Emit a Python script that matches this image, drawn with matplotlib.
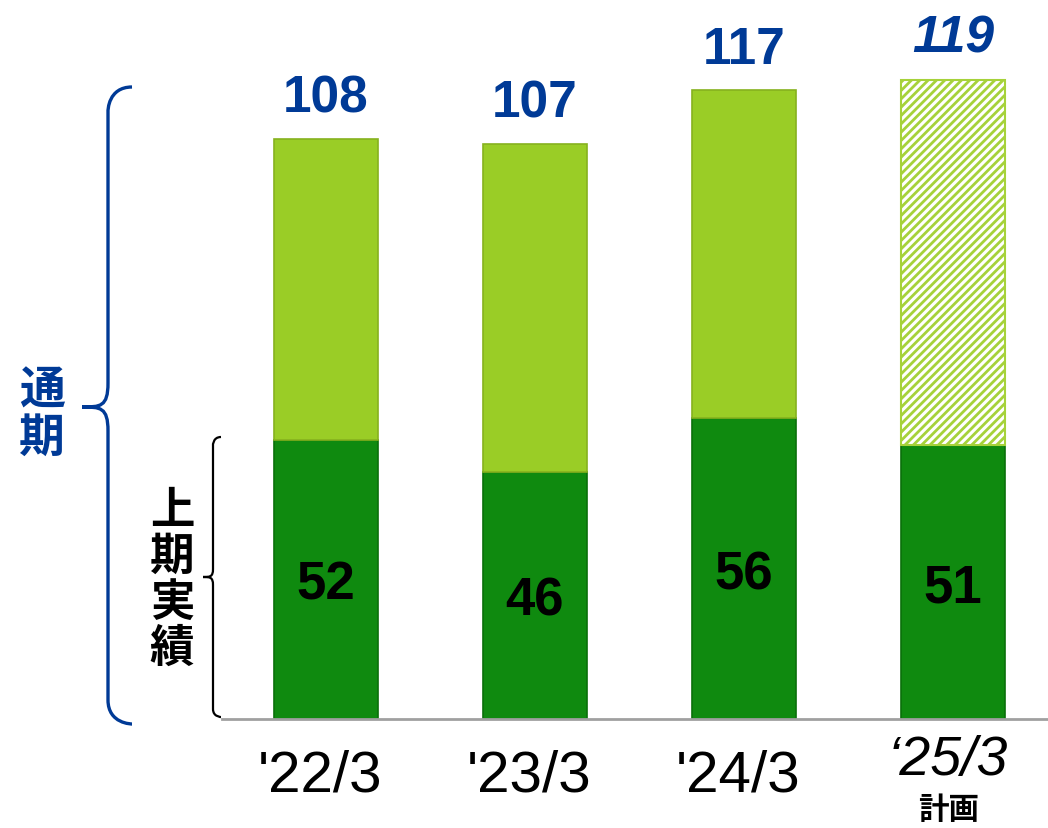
import matplotlib.pyplot as plt
from matplotlib.path import Path
from matplotlib.patches import PathPatch

# data
periods = ["'22/3", "'23/3", "'24/3", "\u201825/3"]
first_half = [52, 46, 56, 51]
full_year = [108, 107, 117, 119]
is_plan = [False, False, False, True]

W, H = 1048, 829
dark_green = "#0F8A0F"
light_green = "#9ACD26"
blue = "#003A96"

plt.rcParams["hatch.linewidth"] = 2.0
plt.rcParams["hatch.color"] = "#A6D23A"

fig = plt.figure(figsize=(W / 100, H / 100), dpi=100)
ax = fig.add_axes([222 / W, 109 / H, (W - 222) / W, 720 / H])

x = list(range(len(periods)))
second_half = [f - h for f, h in zip(full_year, first_half)]

ax.bar(x, first_half, width=0.5, color=dark_green, edgecolor="#0A700A", linewidth=1.2, zorder=2)
for i in x:
    if is_plan[i]:
        ax.bar(i, second_half[i], bottom=first_half[i], width=0.5, facecolor="white",
               edgecolor="#A6D23A", hatch="////", linewidth=1.5, zorder=2)
    else:
        ax.bar(i, second_half[i], bottom=first_half[i], width=0.5, color=light_green,
               edgecolor="#86B21E", linewidth=1.2, zorder=2)

# value labels
for i in x:
    ax.annotate(str(full_year[i]), (i, full_year[i]), xytext=(0, 12), textcoords="offset points",
                ha="center", va="bottom", fontsize=37, fontweight="bold", color=blue,
                family="Liberation Sans", style="italic" if is_plan[i] else "normal")
    ax.annotate(str(first_half[i]), (i, first_half[i] / 2), xytext=(0, -4), textcoords="offset points",
                ha="center", va="center", fontsize=38, fontweight="bold", color="black",
                family="Liberation Sans", zorder=3)

# category labels
for i in x:
    if is_plan[i]:
        ax.annotate(periods[i], (i, 0), xytext=(-4, -11), textcoords="offset points", ha="center",
                    va="top", fontsize=40, color="black", family="Liberation Sans", style="italic")
        ax.annotate("計画", (i, 0), xytext=(-3, -53), textcoords="offset points", ha="center",
                    va="top", fontsize=22, color="black", family="Noto Sans CJK JP", fontweight="bold")
    else:
        ax.annotate(periods[i], (i, 0), xytext=(-4, -21), textcoords="offset points", ha="center",
                    va="top", fontsize=42, color="black", family="Liberation Sans")

ax.set_xlim(-0.497, 3.455)
ax.set_ylim(0, 134)
for s in ["top", "right", "left"]:
    ax.spines[s].set_visible(False)
ax.spines["bottom"].set_color("#A0A0A0")
ax.spines["bottom"].set_linewidth(2)
ax.set_xticks([])
ax.set_yticks([])


def px(xp, yp):
    return (xp / W, 1 - yp / H)


def brace(xl, y0, y1, ym, tip, r, color, lw):
    pts = [(xl + r, y0), (xl, y0), (xl, y0 + r), (xl, y0 + r), (xl, ym - r)]
    codes = [Path.MOVETO, Path.CURVE4, Path.CURVE4, Path.CURVE4, Path.LINETO]
    pts += [(xl, ym), (xl - (xl - tip) * 0.3, ym), (tip, ym)]
    codes += [Path.CURVE4, Path.CURVE4, Path.CURVE4]
    pts += [(xl - (xl - tip) * 0.3, ym), (xl, ym), (xl, ym + r)]
    codes += [Path.CURVE4, Path.CURVE4, Path.CURVE4]
    pts += [(xl, y1 - r), (xl, y1), (xl + r, y1), (xl + r, y1)]
    codes += [Path.LINETO, Path.CURVE4, Path.CURVE4, Path.CURVE4]
    path = Path([px(*p) for p in pts], codes)
    fig.add_artist(PathPatch(path, facecolor="none", edgecolor=color, lw=lw,
                             transform=fig.transFigure))


brace(108, 88, 725, 408, 82, 24, blue, 2.4)
brace(213, 438, 718, 578, 203, 8, "black", 1.6)

fig.text(42 / W, 1 - 415 / H, "通\n期", ha="center", va="center", fontsize=33,
         fontweight="bold", color=blue, family="Noto Sans CJK JP", linespacing=1.05)
fig.text(172 / W, 1 - 580 / H, "上\n期\n実\n績", ha="center", va="center", fontsize=32,
         fontweight="bold", color="black", family="Noto Sans CJK JP", linespacing=1.0)

fig.savefig("out.png", dpi=100)
